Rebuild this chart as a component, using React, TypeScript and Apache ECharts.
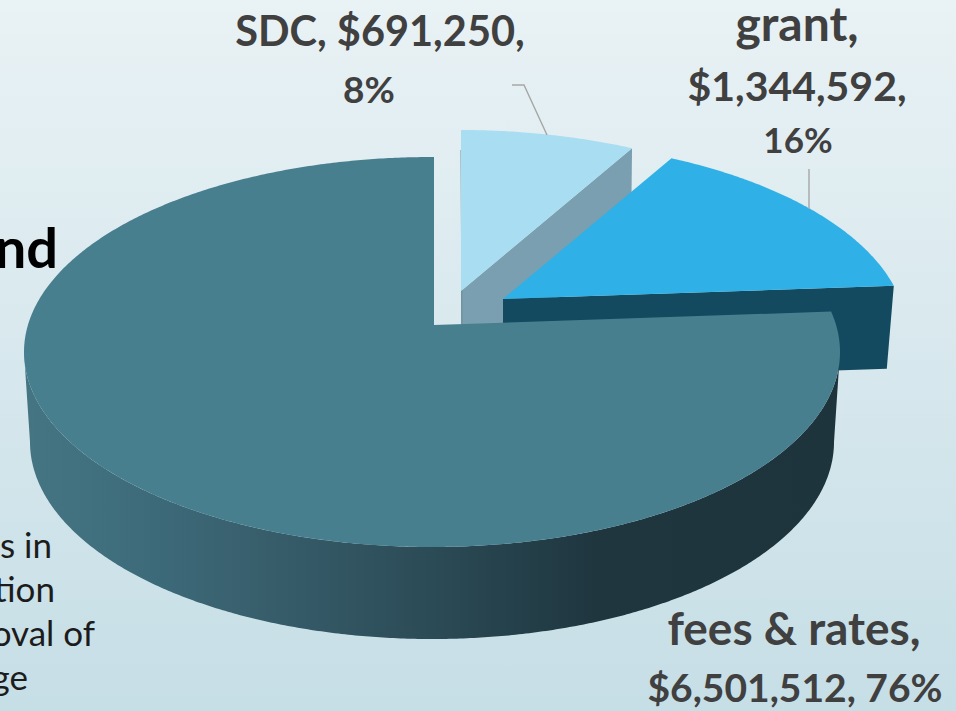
import React, { useEffect, useRef } from "react";
import * as echarts from "echarts";

// Data (drawn back to front, clockwise from 12 o'clock)
const names = ["SDC", "grant", "fees & rates"];
const amounts = [691250, 1344592, 6501512];
const topColors = ["#a9ddf1", "#2fb0e6", "#487f8f"];
const sideColors = ["#7a9fb0", "#134a5f", "#2a4a55"];

const labelLines = [
  ["SDC, $691,250,", "8%"],
  ["grant,", "$1,344,592,", "16%"],
  ["fees & rates,", "$6,501,512, 76%"],
];
const backgroundLines = ["nd", "s in", "tion", "oval of", "ge"];

const W = 956;
const H = 711;
const RX = 408;
const RY = 195;
const RAY_Y = 190;

// Per-slice layout: apex, ellipse centre, extrusion of the rim and the apex
const layout = [
  { ax: 461, ay: 291, cx: 460, cy: 325, dx: -1, dy: 85 },
  { ax: 503, ay: 299, cx: 499, cy: 335, dx: -7, dy: 83 },
  { ax: 434, ay: 325, cx: 432, cy: 352, dx: -6, dy: 90 },
];
const labelPlacement = [
  { xs: [380, 369], ys: [30, 88], sizes: [41.5, 37] },
  { xs: [797, 797, 798], ys: [22, 85, 139], sizes: [48, 41, 35] },
  { xs: [794, 795], ys: [627, 687], sizes: [46, 39] },
];
const leaders = [
  [[512, 85], [524, 85], [547, 135]],
  [[809, 169], [809, 209]],
  null,
];
const bgPlacement = [
  { x: 58, y: 274, size: 56, weight: 700 },
  { x: 52, y: 561, size: 35, weight: 400 },
  { x: 55, y: 605, size: 35, weight: 400 },
  { x: 95, y: 649, size: 35, weight: 400 },
  { x: 28, y: 693, size: 35, weight: 400 },
];

const FONT = "Lato, 'Open Sans', sans-serif";

function rimPoint(g: any, deg: number, rx = RX, ry = RY) {
  const t = (deg * Math.PI) / 180;
  const ux = Math.sin(t) * RX;
  const uy = -Math.cos(t) * RAY_Y;
  // ray from the apex to the ellipse
  const px = (g.ax - g.cx) / rx;
  const py = (g.ay - g.cy) / ry;
  const qx = ux / rx;
  const qy = uy / ry;
  const a = qx * qx + qy * qy;
  const b = 2 * (px * qx + py * qy);
  const c = px * px + py * py - 1;
  const s = (-b + Math.sqrt(b * b - 4 * a * c)) / (2 * a);
  return [g.ax + ux * s, g.ay + uy * s];
}

function ellipsePoint(cx: number, cy: number, rx: number, ry: number, t: number) {
  return [cx + rx * Math.cos(t), cy + ry * Math.sin(t)];
}

const total = amounts.reduce((a, b) => a + b, 0);

function renderSlice(params: any, api: any) {
  const i = params.dataIndex;
  const value = api.value(0);
  const before = amounts.slice(0, i).reduce((a, b) => a + b, 0);
  const start = (before / total) * 360;
  const end = start + (value / total) * 360;
  const g = layout[i];
  const children: any[] = [];

  const rim: number[][] = [];
  for (let d = start; d <= end + 1e-6; d += 0.5) rim.push(rimPoint(g, Math.min(d, end)));
  rim.push(rimPoint(g, end));
  const first = rim[0];
  const last = rim[rim.length - 1];

  if (i === 2) {
    // curved outer wall
    const wall: number[][] = [];
    for (let k = 0; k <= 360; k++) wall.push(ellipsePoint(g.cx, g.cy, RX, RY, (k / 360) * Math.PI));
    for (let k = 360; k >= 0; k--) wall.push(ellipsePoint(g.cx, g.cy + g.dy, RX - 6, RY + 2, (k / 360) * Math.PI));
    children.push({
      type: "polygon",
      shape: { points: wall },
      style: {
        fill: new echarts.graphic.LinearGradient(g.cx - RX, 0, g.cx + RX, 0, [
          { offset: 0, color: "#457582" },
          { offset: 0.15, color: "#3d6b7a" },
          { offset: 0.27, color: "#39606e" },
          { offset: 0.5, color: "#2b4b56" },
          { offset: 0.7, color: "#1f363f" },
          { offset: 1, color: "#1e343c" },
        ], true),
      },
    });
  } else {
    // flat cut face on the clockwise side
    children.push({
      type: "polygon",
      shape: {
        points: [
          [g.ax, g.ay],
          last,
          [last[0] + g.dx, last[1] + g.dy],
          [g.ax, g.ay + g.dy],
        ],
      },
      style: { fill: sideColors[i] },
    });
  }
  if (i === 0) {
    children.push({
      type: "line",
      shape: { x1: first[0], y1: first[1] + 20, x2: g.ax + 1, y2: g.ay + 34 },
      style: { stroke: "#6f8c9a", lineWidth: 1 },
    });
  }
  children.push({
    type: "polygon",
    shape: { points: [[g.ax, g.ay], ...rim] },
    style: { fill: topColors[i] },
  });
  return { type: "group", children };
}

function renderText(params: any) {
  const i = params.dataIndex;
  const children: any[] = [];
  const leader = leaders[i];
  if (leader) {
    children.push({
      type: "polyline",
      shape: { points: leader },
      style: { stroke: "#a6a6a6", lineWidth: 1.4, fill: "none" },
    });
  }
  labelLines[i].forEach((line, k) => {
    children.push({
      type: "text",
      x: labelPlacement[i].xs[k],
      y: labelPlacement[i].ys[k],
      style: {
        text: line,
        fill: "#404040",
        font: `700 ${labelPlacement[i].sizes[k]}px ${FONT}`,
        align: "center",
        verticalAlign: "middle",
      },
    });
  });
  return { type: "group", children };
}

export default function App() {
  const ref = useRef<HTMLDivElement>(null);
  useEffect(() => {
    document.body.style.margin = "0";
    const chart = echarts.init(ref.current!, undefined, { renderer: "svg" });
    chart.setOption({
      animation: false,
      backgroundColor: new echarts.graphic.LinearGradient(0, 0, 0, 1, [
        { offset: 0, color: "#e9f2f5" },
        { offset: 1, color: "#c6dee6" },
      ]),
      graphic: backgroundLines.map((t, k) => ({
        type: "text",
        z: -1,
        x: bgPlacement[k].x,
        y: bgPlacement[k].y,
        style: {
          text: t,
          fill: k === 0 ? "#000000" : "#1c1c1c",
          font: `${bgPlacement[k].weight} ${bgPlacement[k].size}px ${FONT}`,
          align: "right",
          verticalAlign: "bottom",
        },
      })),
      series: [
        {
          type: "custom",
          coordinateSystem: "none",
          silent: true,
          z: 2,
          clip: false,
          data: names.map((name, k) => ({ name, value: [amounts[k]] })),
          renderItem: renderSlice,
        },
        {
          type: "custom",
          coordinateSystem: "none",
          silent: true,
          z: 3,
          data: names.map((name, k) => ({ name, value: [amounts[k]] })),
          renderItem: renderText,
        },
      ],
    });
    return () => chart.dispose();
  }, []);
  return <div ref={ref} style={{ width: W, height: H }} />;
}
